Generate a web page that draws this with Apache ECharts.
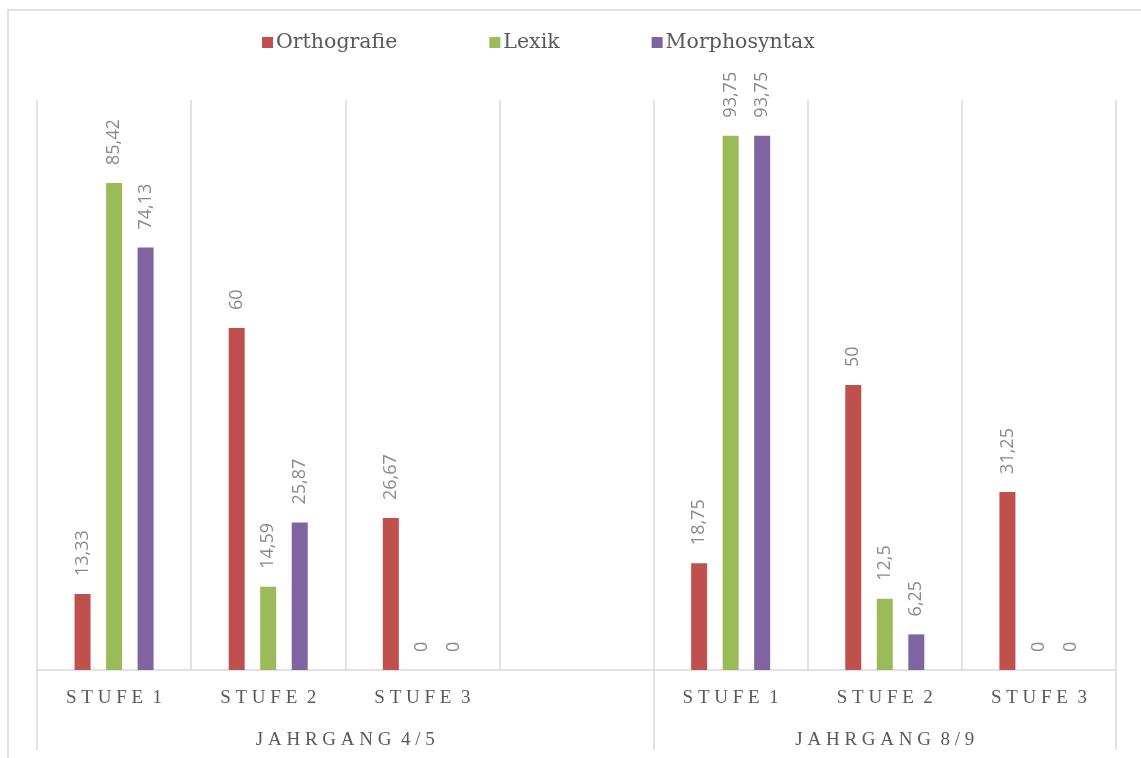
<!DOCTYPE html>
<html>
<head>
<meta charset="utf-8">
<script src="https://cdn.jsdelivr.net/npm/echarts@6/dist/echarts.min.js"></script>
<style>
  html, body { margin: 0; padding: 0; background: #ffffff; }
  #chart { width: 1141px; height: 758px; }
</style>
</head>
<body>
<div id="chart"></div>
<script>
// Year groups and the level categories inside each group
const groupNames = ['Jahrgang 4/5', 'Jahrgang 8/9'];
const stufen45 = ['Stufe 1', 'Stufe 2', 'Stufe 3', ''];
const stufen89 = ['Stufe 1', 'Stufe 2', 'Stufe 3'];

// Percentages per error domain (null = empty slot in the first group)
const orthografie  = [13.33, 60, 26.67, null, 18.75, 50, 31.25];
const lexik        = [85.42, 14.59, 0, null, 93.75, 12.5, 0];
const morphosyntax = [74.13, 25.87, 0, null, 93.75, 6.25, 0];

const seriesNames = ['Orthografie', 'Lexik', 'Morphosyntax'];
const seriesData = [orthografie, lexik, morphosyntax];
const colors = ['#C0504D', '#9BBB59', '#8064A2'];

const categories = stufen45.concat(stufen89);
const groupSizes = [stufen45.length, stufen89.length];

// Group boundaries and centres on a 0..n value scale laid over the category axis
const boundaries = [0];
groupSizes.forEach(function (s, i) { boundaries.push(boundaries[i] + s); });
const centres = groupSizes.map(function (s, i) { return boundaries[i] + s / 2; });

const gridColor = '#d9d9d9';
const textColor = '#595959';

function spaced(text) {
  // wide tracking like the printed axis captions
  return text.toUpperCase().split(' ').map(function (w) {
    return w.split('').join(' ');
  }).join('  ');
}

const chart = echarts.init(document.getElementById('chart'), null, { renderer: 'canvas' });

chart.setOption({
  animation: false,
  backgroundColor: '#ffffff',
  graphic: [{
    type: 'rect',
    silent: true,
    z: -10,
    shape: { x: 8, y: 10, width: 1400, height: 900 },
    style: { fill: 'none', stroke: gridColor, lineWidth: 1.5 }
  }],
  legend: {
    left: 262,
    top: 32,
    padding: 0,
    itemWidth: 11,
    itemHeight: 11,
    itemGap: 92,
    icon: 'rect',
    textStyle: { fontFamily: 'DejaVu Serif', fontSize: 20.5, color: textColor, padding: [0, 0, 0, -2] },
    data: seriesNames
  },
  grid: { left: 37, right: 25, top: 100, bottom: 88, containLabel: false },
  xAxis: [{
    type: 'category',
    data: categories,
    boundaryGap: true,
    axisLine: { lineStyle: { color: gridColor, width: 1.5 } },
    axisTick: { show: false },
    splitLine: { show: true, lineStyle: { color: gridColor, width: 1.5 } },
    axisLabel: {
      interval: 0,
      margin: 19,
      fontFamily: 'Liberation Serif',
      fontSize: 19,
      color: textColor,
      formatter: function (v) { return v ? spaced(v) : ''; }
    }
  }, {
    type: 'value',
    position: 'bottom',
    min: 0,
    max: boundaries[boundaries.length - 1],
    axisLine: { show: false },
    splitLine: { show: false },
    axisTick: {
      show: true,
      customValues: boundaries,
      length: 80,
      lineStyle: { color: gridColor, width: 1.5 }
    },
    axisLabel: {
      customValues: centres,
      margin: 61,
      fontFamily: 'Liberation Serif',
      fontSize: 19,
      color: textColor,
      formatter: function (v) {
        const i = centres.indexOf(v);
        return i >= 0 ? spaced(groupNames[i]) : '';
      }
    }
  }],
  yAxis: {
    type: 'value',
    min: 0,
    max: 100,
    show: false,
    splitLine: { show: false }
  },
  series: seriesNames.map(function (name, i) {
    return {
      name: name,
      type: 'bar',
      xAxisIndex: 0,
      data: seriesData[i],
      barWidth: 16,
      barGap: '97%',
      itemStyle: { color: colors[i] },
      label: {
        show: true,
        position: 'top',
        distance: 18,
        rotate: 90,
        align: 'left',
        verticalAlign: 'middle',
        fontFamily: 'Open Sans',
        fontSize: 18,
        color: '#8a8a8a',
        formatter: function (p) {
          return p.value == null ? '' : String(p.value).replace('.', ',');
        }
      }
    };
  })
});
</script>
</body>
</html>
